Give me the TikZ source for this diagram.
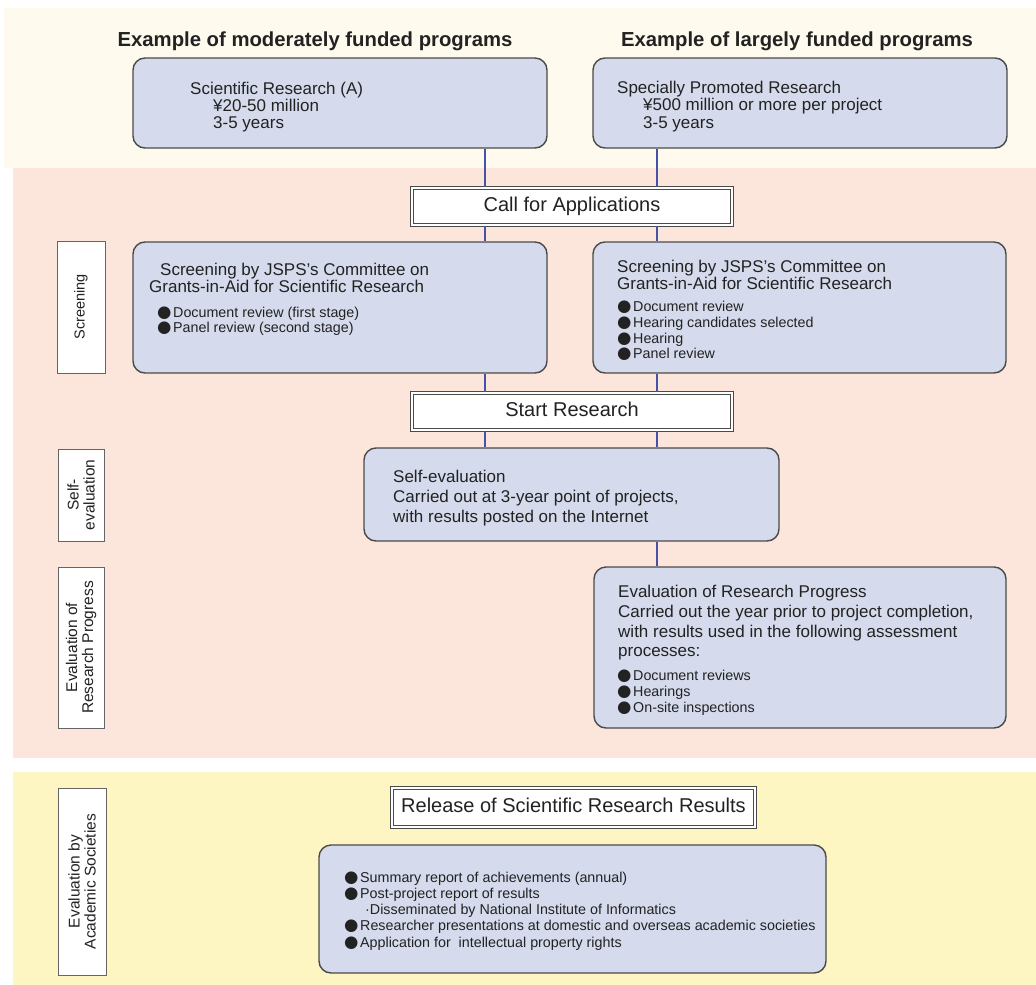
\documentclass[tikz,border=0pt]{standalone}
\usepackage{fontspec}
\setmainfont{Liberation Sans}
\newfontfamily\symf{DejaVu Sans}
\usetikzlibrary{calc}
\definecolor{cream}{HTML}{FEFBEE}
\definecolor{pinkbg}{HTML}{FCE5DA}
\definecolor{yellowbg}{HTML}{FEF6C2}
\definecolor{boxfill}{HTML}{D5DBEC}
\definecolor{boxline}{HTML}{4A4A4A}
\definecolor{linkblue}{HTML}{4652A8}
\definecolor{ink}{HTML}{222222}
% filled round bullet in front of list items (kept out of the line height)
\newcommand\bul{\makebox[16pt][l]{\symf\fontsize{16.5}{14}\selectfont\smash{\raisebox{-0.4pt}{●}}}}
\tikzset{
  stagebox/.style={draw=boxline, line width=1.4pt, fill=boxfill, rounded corners=12pt,
    inner sep=0pt, minimum width=#1},
  stagebox/.default=414pt,
  framebox/.style={draw=boxline, line width=1.1pt, double=white, double distance=1.3pt,
    fill=white, inner sep=0pt, font=\fontsize{20}{22}\selectfont, text=ink,
    text height=14pt, text depth=4pt},
  sidelabel/.style={draw=boxline!85, line width=1pt, fill=white, rotate=90, inner sep=0pt,
    align=center, text=ink, font=\fontsize{15.5}{16}\selectfont},
  heading/.style={anchor=base, font=\bfseries\fontsize{20.3}{22}\selectfont, text=ink},
  bodytxt/.style={anchor=base west, inner sep=0pt, text=ink, font=\fontsize{17}{19}\selectfont},
  itemtxt/.style={anchor=base west, inner sep=0pt, text=ink, font=\fontsize{14.3}{16}\selectfont},
  link/.style={draw=linkblue, line width=1.8pt}
}
\begin{document}
\begin{tikzpicture}[x=1pt,y=-1pt]
\useasboundingbox (0,0) rectangle (1036,985);
% coloured bands
\fill[cream] (4,8) rectangle (1036,168);
\fill[pinkbg] (13,168) rectangle (1036,758);
\fill[yellowbg] (13,772) rectangle (1036,985);

% headings
\node[heading] (hmod) at (315,46) {Example of moderately funded programs};
\node[heading] (hlar) at (797,46) {Example of largely funded programs};

% stage boxes
\node[stagebox, minimum height=90pt] (progA) at (340,103) {};
\node[stagebox, minimum height=90pt] (progB) at (800,103) {};
\node[framebox, minimum width=320pt, minimum height=37pt] (call) at (572,206.5) {Call for Applications};
\node[stagebox, minimum height=131pt] (scrA) at (340,307.5) {};
\node[stagebox=413pt, minimum height=131pt] (scrB) at (799.5,307.5) {};
\node[framebox, minimum width=320pt, minimum height=37pt] (start) at (572,411.5) {Start Research};
\node[stagebox=415pt, minimum height=93pt] (self) at (571.5,494.5) {};
\node[stagebox=412pt, minimum height=161pt] (eval) at (800,647.5) {};
\node[framebox, minimum width=363pt, minimum height=39pt] (release) at (573.5,807.5) {Release of Scientific Research Results};
\node[stagebox=507pt, minimum height=128pt] (results) at (572.5,909) {};

% phase labels on the left
\node[sidelabel, minimum width=132pt, minimum height=48pt, font=\fontsize{14.5}{16}\selectfont] (labScr) at (81,307) {Screening};
\node[sidelabel, minimum width=92pt, minimum height=46pt] (labSelf) at (81,495) {Self-\\evaluation};
\node[sidelabel, minimum width=161pt, minimum height=46pt] (labEval) at (81,647.5) {Evaluation of\\Research Progress};
\node[sidelabel, minimum width=187pt, minimum height=48pt] (labSoc) at (82,881.5) {Evaluation by\\Academic Societies};

% connectors along the two program tracks
\coordinate (trackL) at (485,0);
\coordinate (trackR) at (657,0);
\draw[link] (progA.south -| trackL) -- (call.north -| trackL);
\draw[link] (call.south -| trackL) -- (scrA.north -| trackL);
\draw[link] (scrA.south -| trackL) -- (start.north -| trackL);
\draw[link] (start.south -| trackL) -- (self.north -| trackL);
\draw[link] (progB.south -| trackR) -- (call.north -| trackR);
\draw[link] (call.south -| trackR) -- (scrB.north -| trackR);
\draw[link] (scrB.south -| trackR) -- (start.north -| trackR);
\draw[link] (start.south -| trackR) -- (self.north -| trackR);
\draw[link] (self.south -| trackR) -- (eval.north -| trackR);

% texts of the program boxes
\node[bodytxt] (a1) at (190,94) {Scientific Research (A)};
\node[bodytxt] (a2) at (213,111) {¥20-50 million};
\node[bodytxt] (a3) at (213,128) {3-5 years};
\node[bodytxt] (b1) at (617,93) {Specially Promoted Research};
\node[bodytxt] (b2) at (643,110) {¥500 million or more per project};
\node[bodytxt] (b3) at (643,128) {3-5 years};

% screening texts
\node[bodytxt] (sa1) at (160,275) {Screening by JSPS's Committee on};
\node[bodytxt] (sa2) at (149,292) {Grants-in-Aid for Scientific Research};
\node[itemtxt] (sa3) at (157,317) {\bul Document review (first stage)};
\node[itemtxt] (sa4) at (157,332) {\bul Panel review (second stage)};
\node[bodytxt] (sb1) at (617,272) {Screening by JSPS's Committee on};
\node[bodytxt] (sb2) at (617,289) {Grants-in-Aid for Scientific Research};
\node[itemtxt] (sb3) at (617,311) {\bul Document review};
\node[itemtxt] (sb4) at (617,327) {\bul Hearing candidates selected};
\node[itemtxt] (sb5) at (617,343) {\bul Hearing};
\node[itemtxt] (sb6) at (617,358) {\bul Panel review};

% self-evaluation texts
\node[bodytxt] (se1) at (393,482) {Self-evaluation};
\node[bodytxt] (se2) at (393,502) {Carried out at 3-year point of projects,};
\node[bodytxt] (se3) at (393,522) {with results posted on the Internet};

% progress evaluation texts
\node[bodytxt] (ev1) at (618,597) {Evaluation of Research Progress};
\node[bodytxt] (ev2) at (618,617) {Carried out the year prior to project completion,};
\node[bodytxt] (ev3) at (618,637) {with results used in the following assessment};
\node[bodytxt] (ev4) at (618,656) {processes:};
\node[itemtxt] (ev5) at (617,680) {\bul Document reviews};
\node[itemtxt] (ev6) at (617,696) {\bul Hearings};
\node[itemtxt] (ev7) at (617,712) {\bul On-site inspections};

% released results
\node[itemtxt] (r1) at (344,882) {\bul Summary report of achievements (annual)};
\node[itemtxt] (r2) at (344,898) {\bul Post-project report of results};
\node[itemtxt] (r3) at (365,914) {·Disseminated by National Institute of Informatics};
\node[itemtxt] (r4) at (344,930) {\bul Researcher presentations at domestic and overseas academic societies};
\node[itemtxt] (r5) at (344,947) {\bul Application for\ \ intellectual property rights};
\end{tikzpicture}
\end{document}
